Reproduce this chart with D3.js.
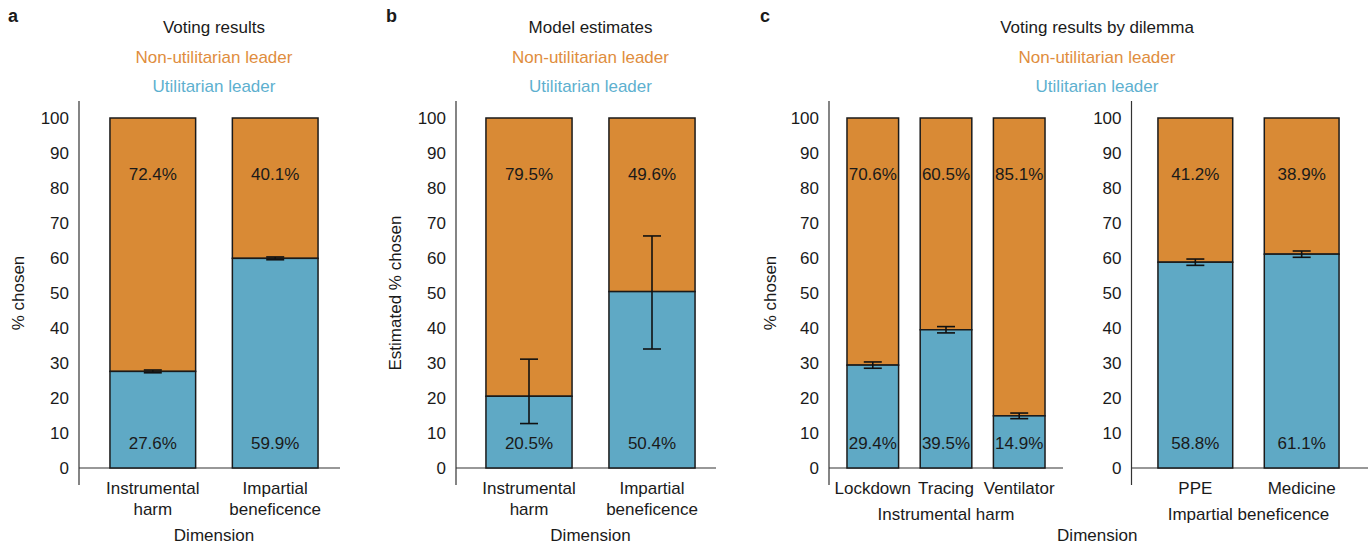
<!DOCTYPE html>
<html><head><meta charset="utf-8">
<script src="https://cdn.jsdelivr.net/npm/d3@7"></script>
<style>
body{margin:0;background:#fff;}
svg text{font-family:"Liberation Sans",Arial,Helvetica,sans-serif;fill:#1a1a1a;}
</style></head>
<body><svg id="chart" width="1368" height="545"></svg>
<script>
// ---- data ----
const yTicks = [0,10,20,30,40,50,60,70,80,90,100];
const seriesNames = ["Non-utilitarian leader","Utilitarian leader"];

const votingCats = [["Instrumental","harm"],["Impartial","beneficence"]];
const votingUtil = [27.6, 59.9];
const votingNonUtil = [72.4, 40.1];
const votingErrLow = [27.2, 59.5];
const votingErrHigh = [28.0, 60.3];

const modelCats = [["Instrumental","harm"],["Impartial","beneficence"]];
const modelUtil = [20.5, 50.4];
const modelNonUtil = [79.5, 49.6];
const modelErrLow = [12.7, 34.0];
const modelErrHigh = [31.1, 66.3];

const harmCats = ["Lockdown","Tracing","Ventilator"];
const harmUtil = [29.4, 39.5, 14.9];
const harmNonUtil = [70.6, 60.5, 85.1];
const harmErrLow = [28.5, 38.6, 14.1];
const harmErrHigh = [30.3, 40.4, 15.7];

const benefCats = ["PPE","Medicine"];
const benefUtil = [58.8, 61.1];
const benefNonUtil = [41.2, 38.9];
const benefErrLow = [57.9, 60.2];
const benefErrHigh = [59.7, 62.0];

// ---- styles ----
const ORANGE = "#D98A35", BLUE = "#5FA9C5";
const ORANGE_T = "#E08D3D", BLUE_T = "#5DB0CF";
const svg = d3.select("#chart");
const y = d3.scaleLinear().domain([0,100]).range([468,118]);
const FS = 17;

function yAxis(xAxis, baseEnd, labelX, title){
  const g = svg.append("g").attr("transform",`translate(${xAxis},0)`);
  const ax = d3.axisLeft(y).tickValues(yTicks).tickSize(0).tickPadding(10);
  g.call(ax);
  g.select(".domain").remove();
  g.selectAll("text").style("font-size",FS+"px").attr("fill","#1a1a1a")
    .style("font-family","'Liberation Sans',Arial,sans-serif");
  svg.append("line").attr("x1",xAxis).attr("x2",xAxis).attr("y1",101).attr("y2",485)
    .attr("stroke","#333").attr("stroke-width",1.2);
  svg.append("line").attr("x1",xAxis).attr("x2",baseEnd).attr("y1",y(0)).attr("y2",y(0))
    .attr("stroke","#333").attr("stroke-width",1.2);
  if(title){
    svg.append("text").attr("transform",`translate(${labelX},293) rotate(-90)`)
      .attr("text-anchor","middle").attr("dy","0.35em").style("font-size",FS+"px").text(title);
  }
}

function bars(x, cats, util, nonUtil, lo, hi){
  const g = svg.append("g");
  cats.forEach((c,i)=>{
    const key = Array.isArray(c)? c.join(" "):c;
    const x0 = x(key), w = x.bandwidth();
    g.append("rect").attr("x",x0).attr("width",w)
      .attr("y",y(util[i]+nonUtil[i])).attr("height",y(util[i])-y(util[i]+nonUtil[i]))
      .attr("fill",ORANGE).attr("stroke","#1a1a1a").attr("stroke-width",1.5);
    g.append("rect").attr("x",x0).attr("width",w)
      .attr("y",y(util[i])).attr("height",y(0)-y(util[i]))
      .attr("fill",BLUE).attr("stroke","#1a1a1a").attr("stroke-width",1.5);
    const cx = x0 + w/2;
    g.append("line").attr("x1",cx).attr("x2",cx).attr("y1",y(lo[i])).attr("y2",y(hi[i]))
      .attr("stroke","#111").attr("stroke-width",1.6);
    [lo[i],hi[i]].forEach(v=>{
      g.append("line").attr("x1",cx-9).attr("x2",cx+9).attr("y1",y(v)).attr("y2",y(v))
        .attr("stroke","#111").attr("stroke-width",1.6);
    });
    g.append("text").attr("x",cx).attr("y",y(82.3)).attr("text-anchor","middle")
      .style("font-size",FS+"px").text(nonUtil[i].toFixed(1)+"%");
    g.append("text").attr("x",cx).attr("y",y(5.4)).attr("text-anchor","middle")
      .style("font-size",FS+"px").text(util[i].toFixed(1)+"%");
  });
}

function header(cx, title){
  svg.append("text").attr("x",cx).attr("y",33).attr("text-anchor","middle").style("font-size",FS+"px").text(title);
  svg.append("text").attr("x",cx).attr("y",63).attr("text-anchor","middle").style("font-size",FS+"px").style("fill",ORANGE_T).text(seriesNames[0]);
  svg.append("text").attr("x",cx).attr("y",92).attr("text-anchor","middle").style("font-size",FS+"px").style("fill",BLUE_T).text(seriesNames[1]);
}

function panelLetter(x, t){
  svg.append("text").attr("x",x).attr("y",22).style("font-size","18px").style("font-weight","bold").text(t);
}

// ---- panel a ----
panelLetter(8,"a");
const xa = d3.scaleBand().domain(votingCats.map(d=>d.join(" "))).range([91.6,336.4]).paddingInner(0.3).paddingOuter(0.15);
yAxis(79, 340, 18, "% chosen");
bars(xa, votingCats, votingUtil, votingNonUtil, votingErrLow, votingErrHigh);
header((xa.range()[0]+xa.range()[1])/2, "Voting results");
votingCats.forEach(c=>{
  const cx = xa(c.join(" "))+xa.bandwidth()/2;
  c.forEach((l,j)=>svg.append("text").attr("x",cx).attr("y",494+j*21).attr("text-anchor","middle").style("font-size",FS+"px").text(l));
});
svg.append("text").attr("x",214).attr("y",541).attr("text-anchor","middle").style("font-size",FS+"px").text("Dimension");

// ---- panel b ----
panelLetter(386,"b");
const xb = d3.scaleBand().domain(modelCats.map(d=>d.join(" "))).range([467.5,713.5]).paddingInner(0.3).paddingOuter(0.15);
yAxis(456, 716, 395, "Estimated % chosen");
bars(xb, modelCats, modelUtil, modelNonUtil, modelErrLow, modelErrHigh);
header(590.5, "Model estimates");
modelCats.forEach(c=>{
  const cx = xb(c.join(" "))+xb.bandwidth()/2;
  c.forEach((l,j)=>svg.append("text").attr("x",cx).attr("y",494+j*21).attr("text-anchor","middle").style("font-size",FS+"px").text(l));
});
svg.append("text").attr("x",590.5).attr("y",541).attr("text-anchor","middle").style("font-size",FS+"px").text("Dimension");

// ---- panel c ----
panelLetter(760,"c");
const xc1 = d3.scaleBand().domain(harmCats).range([836,1056]).paddingInner(0.295).paddingOuter(0.15);
const xc2 = d3.scaleBand().domain(benefCats).range([1142,1355]).paddingInner(0.297).paddingOuter(0.15);
yAxis(829, 1063, 770, "% chosen");
yAxis(1131.5, 1368, 0, null);
bars(xc1, harmCats, harmUtil, harmNonUtil, harmErrLow, harmErrHigh);
bars(xc2, benefCats, benefUtil, benefNonUtil, benefErrLow, benefErrHigh);
header(1097, "Voting results by dilemma");
harmCats.forEach(c=>svg.append("text").attr("x",xc1(c)+xc1.bandwidth()/2).attr("y",494).attr("text-anchor","middle").style("font-size",FS+"px").text(c));
benefCats.forEach(c=>svg.append("text").attr("x",xc2(c)+xc2.bandwidth()/2).attr("y",494).attr("text-anchor","middle").style("font-size",FS+"px").text(c));
const g1c = (xc1(harmCats[0]) + xc1(harmCats[harmCats.length-1]) + xc1.bandwidth())/2;
const g2c = (xc2(benefCats[0]) + xc2(benefCats[benefCats.length-1]) + xc2.bandwidth())/2;
svg.append("text").attr("x",g1c).attr("y",520).attr("text-anchor","middle").style("font-size",FS+"px").text("Instrumental harm");
svg.append("text").attr("x",g2c).attr("y",520).attr("text-anchor","middle").style("font-size",FS+"px").text("Impartial beneficence");
svg.append("text").attr("x",(g1c+g2c)/2).attr("y",541).attr("text-anchor","middle").style("font-size",FS+"px").text("Dimension");
</script></body></html>
